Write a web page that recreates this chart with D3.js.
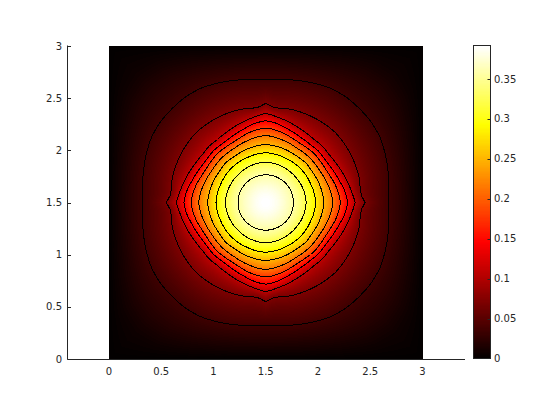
<!DOCTYPE html>
<html><head><meta charset="utf-8">
<script src="https://cdn.jsdelivr.net/npm/d3@7"></script>
<style>html,body{margin:0;padding:0;background:#fff}svg{display:block}
text{font-family:"DejaVu Sans",sans-serif;font-size:10px;fill:#262626}</style></head>
<body><svg id="c" width="560" height="420"></svg>
<script>
const xTicks = [0, 0.5, 1, 1.5, 2, 2.5, 3];
const yTicks = [0, 0.5, 1, 1.5, 2, 2.5, 3];
const barTicks = [0, 0.05, 0.1, 0.15, 0.2, 0.25, 0.3, 0.35];
const peakValue = 0.392;
const contourLevels = [0.0356, 0.0713, 0.1069, 0.1425, 0.1782, 0.2138, 0.2495, 0.2851, 0.3207, 0.3564];
const faintLevels = [0.007, 0.018];
const readAngles = [0, 4, 8, 15, 22.5, 30, 37.5, 45];
const edgeRadii = [1.5, 1.504, 1.515, 1.553, 1.624, 1.732, 1.891, 2.121];
const radiiF1  = [1.438, 1.44, 1.451, 1.483, 1.541, 1.625, 1.72, 1.773];
const radiiF2  = [1.338, 1.34, 1.348, 1.373, 1.415, 1.47, 1.527, 1.551];
const radiiL1  = [1.178, 1.18, 1.19, 1.21, 1.235, 1.26, 1.27, 1.27];
const radiiL2  = [0.95, 0.918, 0.912, 0.925, 0.93, 0.935, 0.94, 0.945];
const radiiL3  = [0.855, 0.84, 0.825, 0.805, 0.785, 0.77, 0.76, 0.765];
const radiiL4  = [0.783, 0.775, 0.765, 0.74, 0.72, 0.705, 0.70, 0.705];
const radiiL5  = [0.713, 0.708, 0.70, 0.685, 0.665, 0.655, 0.655, 0.66];
const radiiL6  = [0.64, 0.638, 0.632, 0.62, 0.61, 0.60, 0.60, 0.60];
const radiiL7  = [0.555, 0.553, 0.55, 0.545, 0.54, 0.535, 0.535, 0.54];
const radiiL8  = [0.476, 0.475, 0.473, 0.47, 0.465, 0.465, 0.465, 0.465];
const radiiL9  = [0.386, 0.385, 0.384, 0.382, 0.38, 0.378, 0.376, 0.376];
const radiiL10 = [0.265, 0.265, 0.265, 0.265, 0.265, 0.265, 0.265, 0.265];

const radiiByLevel = [radiiL10, radiiL9, radiiL8, radiiL7, radiiL6, radiiL5, radiiL4, radiiL3, radiiL2, radiiL1, radiiF2, radiiF1, edgeRadii];
const valueByLevel = [...contourLevels].reverse().concat([faintLevels[1], faintLevels[0], 0]);

const x = d3.scaleLinear().domain([0, 3]).range([109, 422.5]);
const y = d3.scaleLinear().domain([0, 3]).range([359, 46]);
const cb = d3.scaleLinear().domain([0, peakValue]).range([358.5, 45.5]);
const N = 256;
const A = N * 3 / 8;
const hot = d3.range(N).map(k => {
  const i = k + 1;
  const r = i <= A ? i / A : 1;
  const g = i <= A ? 0 : i <= 2 * A ? (i - A) / A : 1;
  const b = i <= 2 * A ? 0 : (i - 2 * A) / (N - 2 * A);
  return [r * 255, g * 255, b * 255].map(Math.round);
});
const colorIndex = d3.scaleQuantize().domain([0, peakValue]).range(d3.range(N));

function profile(deg) {
  let j = d3.bisectRight(readAngles, deg) - 1;
  j = Math.min(j, readAngles.length - 2);
  const t = (deg - readAngles[j]) / (readAngles[j + 1] - readAngles[j]);
  const rs = [0], vs = [peakValue];
  radiiByLevel.forEach((a, l) => { rs.push(a[j] + (a[j + 1] - a[j]) * t); vs.push(valueByLevel[l]); });
  return [rs, vs];
}
function fieldAt(dx, dy) {
  const a = Math.abs(dx), b = Math.abs(dy);
  const deg = Math.atan2(Math.min(a, b), Math.max(a, b)) * 180 / Math.PI;
  const r = Math.hypot(dx, dy);
  const [rs, vs] = profile(deg);
  if (r >= rs[rs.length - 1]) return 0;
  const i = Math.max(0, d3.bisectRight(rs, r) - 1);
  const h = rs[i + 1] - rs[i];
  const slope = k => {
    if (k === 0) return 0;
    if (k === rs.length - 1) return (vs[k] - vs[k - 1]) / (rs[k] - rs[k - 1]);
    const s0 = (vs[k] - vs[k - 1]) / (rs[k] - rs[k - 1]);
    const s1 = (vs[k + 1] - vs[k]) / (rs[k + 1] - rs[k]);
    return 2 * s0 * s1 / (s0 + s1);
  };
  const m0 = slope(i), m1 = slope(i + 1), t = (r - rs[i]) / h;
  const t2 = t * t, t3 = t2 * t;
  return (2 * t3 - 3 * t2 + 1) * vs[i] + (t3 - 2 * t2 + t) * h * m0 + (-2 * t3 + 3 * t2) * vs[i + 1] + (t3 - t2) * h * m1;
}

const W = 314, H = 313;
const grid = new Float64Array(W * H);
const cv = document.createElement("canvas"); cv.width = W; cv.height = H;
const ctx = cv.getContext("2d");
const img = ctx.createImageData(W, H);
for (let j = 0; j < H; j++) for (let i = 0; i < W; i++) {
  const dataX = x.invert(109 + i + 0.5), dataY = y.invert(46 + j + 0.5);
  const v = fieldAt(dataX - 1.5, dataY - 1.5);
  grid[j * W + i] = v;
  const c = hot[colorIndex(v)], p = (j * W + i) * 4;
  img.data[p] = c[0]; img.data[p + 1] = c[1]; img.data[p + 2] = c[2]; img.data[p + 3] = 255;
}
ctx.putImageData(img, 0, 0);

const svg = d3.select("#c");
svg.append("image").attr("x", 109).attr("y", 46).attr("width", W).attr("height", H)
  .attr("href", cv.toDataURL()).style("image-rendering", "pixelated");

const contours = d3.contours().size([W, H]).thresholds(contourLevels)(grid);
const path = d3.geoPath();
svg.append("g").attr("transform", "translate(109,46)").selectAll("path").data(contours).join("path")
  .attr("d", path).attr("fill", "none").attr("stroke", "#000").attr("stroke-width", 1)
  .attr("shape-rendering", "crispEdges");

const ink = "#262626";
const ax = svg.append("g");
ax.append("line").attr("x1", 67.5).attr("x2", 67.5).attr("y1", 45.5).attr("y2", 359.5).attr("stroke", ink);
ax.append("line").attr("x1", 67.5).attr("x2", 465).attr("y1", 359.5).attr("y2", 359.5).attr("stroke", ink);
ax.selectAll(".yt").data(yTicks).join("line").attr("x1", 67.5).attr("x2", 71)
  .attr("y1", d => Math.round(y(d)) + .5).attr("y2", d => Math.round(y(d)) + .5).attr("stroke", ink);
ax.selectAll(".yl").data(yTicks).join("text").attr("x", 62).attr("y", d => y(d) + 3.5)
  .attr("text-anchor", "end").text(d => d);
ax.selectAll(".xl").data(xTicks).join("text").attr("x", d => x(d)).attr("y", 375)
  .attr("text-anchor", "middle").text(d => d);

const bar = svg.append("g");
bar.selectAll("rect").data(hot).join("rect")
  .attr("x", 473.5).attr("width", 17)
  .attr("y", (d, i) => cb(colorIndex.invertExtent(i)[1]))
  .attr("height", (d, i) => cb(colorIndex.invertExtent(i)[0]) - cb(colorIndex.invertExtent(i)[1]) + .5)
  .attr("fill", d => `rgb(${d})`)
  .attr("shape-rendering", "crispEdges");
bar.append("rect").attr("x", 473.5).attr("y", 45.5).attr("width", 17).attr("height", 313)
  .attr("fill", "none").attr("stroke", ink);
bar.selectAll("line").data(barTicks.slice(1)).join("line").attr("x1", 487.5).attr("x2", 490.5)
  .attr("y1", d => Math.round(cb(d)) + .5).attr("y2", d => Math.round(cb(d)) + .5).attr("stroke", ink);
bar.selectAll("text").data(barTicks).join("text").attr("x", 494).attr("y", d => cb(d) + 3.5).text(d => d);
</script></body></html>
